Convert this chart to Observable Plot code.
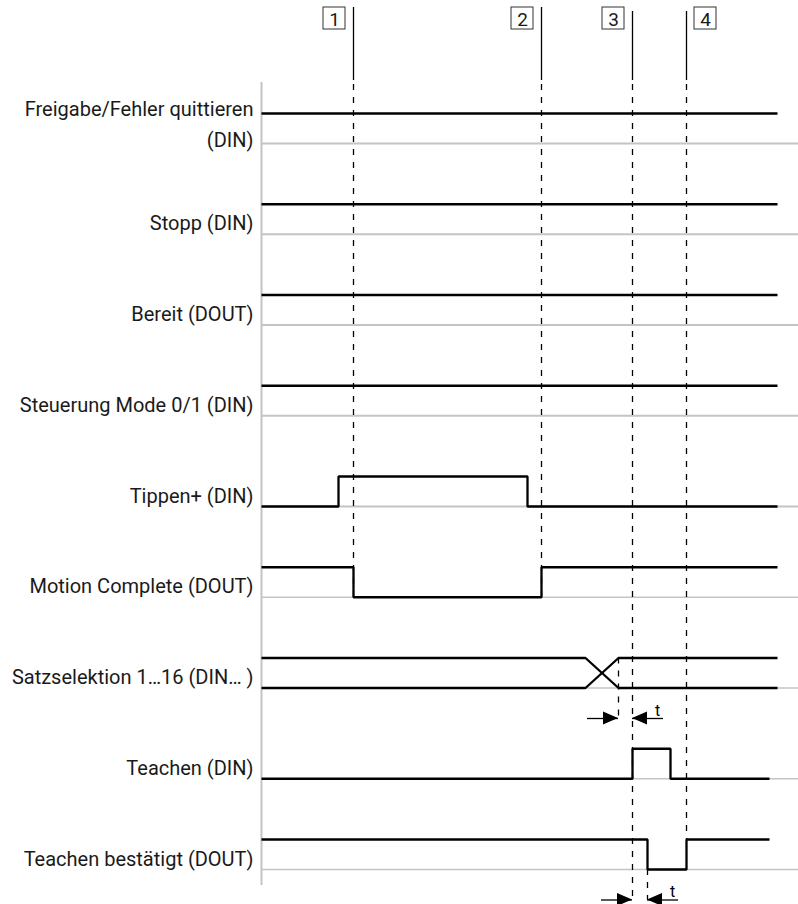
<!DOCTYPE html>
<html><head><meta charset="utf-8">
<script src="https://cdn.jsdelivr.net/npm/d3@7"></script>
<script src="https://cdn.jsdelivr.net/npm/@observablehq/plot@0.6"></script>
<style>html,body{margin:0;padding:0;background:#fff}svg{display:block}</style>
</head><body><div id="chart"></div>
<script>
// ---- data (time units, logic levels) ----
const signalNames = [
  "Freigabe/Fehler quittieren\n(DIN)",
  "Stopp (DIN)",
  "Bereit (DOUT)",
  "Steuerung Mode 0/1 (DIN)",
  "Tippen+ (DIN)",
  "Motion Complete (DOUT)",
  "Satzselektion 1…16 (DIN… )",
  "Teachen (DIN)",
  "Teachen bestätigt (DOUT)"
];
const freigabe  = [[0,1],[516,1]];
const stopp     = [[0,1],[516,1]];
const bereit    = [[0,1],[516,1]];
const steuerung = [[0,1],[516,1]];
const tippen    = [[0,0],[77,0],[77,1],[266,1],[266,0],[516,0]];
const motion    = [[0,1],[92,1],[92,0],[280,0],[280,1],[516,1]];
const satzA     = [[0,1],[324,1],[357,0],[516,0]];
const satzB     = [[0,0],[324,0],[357,1],[516,1]];
const teachen   = [[0,0],[371,0],[371,1],[409,1],[409,0],[508,0]];
const teachenOk = [[0,1],[386,1],[386,0],[425,0],[425,1],[508,1]];
const traceRows = [0,1,2,3,4,5,6,6,7,8];
const traceData = [freigabe,stopp,bereit,steuerung,tippen,motion,satzA,satzB,teachen,teachenOk];
const timeEnd = 537;
const markerTimes  = [92, 280, 371, 425];
const markerLabels = ["1","2","3","4"];
const tRows   = [6, 8];
const tStarts = [357, 371];
const tEnds   = [371, 386];

// ---- layout helpers ----
const ROW = 90.75, GAP = 30;
const yHigh = r => r * ROW;
const yLow  = r => r * ROW + GAP;
const yLevel = (r, lv) => lv ? yHigh(r) : yLow(r);

const lines = [];
traceData.forEach((pts, i) => pts.forEach(([t, lv]) =>
  lines.push({x: t, y: yLevel(traceRows[i], lv), z: i})));

const rows = signalNames.map((name, i) => ({name, i}));

const markers = markerTimes.map((t, i) => ({
  t, label: markerLabels[i], side: i === 3 ? 1 : -1,
  top: i < 2 ? -106 : -102,
  end: i < 2 ? yLow(5) : i === 2 ? yLow(8) + 30 : yHigh(8)
}));

const tArr = tRows.map((r, i) => ({row: r, start: tStarts[i], end: tEnds[i], ay: yLow(r) + 30.5}));
const shafts = [];
const heads = [];
tArr.forEach((a, k) => {
  shafts.push({x1: a.start - 31, x2: a.start, y: a.ay});
  shafts.push({x1: a.end, x2: a.end + 31, y: a.ay});
  heads.push({x: a.start - 15, y1: a.ay - 6.5, y2: a.ay + 6.5, z: "r" + k});
  heads.push({x: a.start, y1: a.ay, y2: a.ay, z: "r" + k});
  heads.push({x: a.end, y1: a.ay, y2: a.ay, z: "l" + k});
  heads.push({x: a.end + 15, y1: a.ay - 6.5, y2: a.ay + 6.5, z: "l" + k});
});
const guides = [
  {x: tArr[0].start, y1: yHigh(6), y2: tArr[0].ay},
  {x: tArr[1].end, y1: yLow(8), y2: tArr[1].ay}
];

const dash = "6,7";
const chart = Plot.plot({
  width: 798, height: 904,
  marginTop: 0, marginRight: 0, marginBottom: 0, marginLeft: 0,
  x: {domain: [0, timeEnd], range: [261, 798], axis: null},
  y: {domain: [-113, 791], range: [0, 904], axis: null},
  style: {fontFamily: "Roboto, sans-serif", background: "#fff", color: "#1a1a1a"},
  marks: [
    Plot.ruleY(rows.filter(d => d.i < 5), {y: d => yLow(d.i), x1: 0, x2: timeEnd, stroke: "#c4c4c4", strokeWidth: 2}),
    Plot.ruleY(rows.filter(d => d.i >= 5), {y: d => yLow(d.i), x1: 0, x2: timeEnd, stroke: "#c4c4c4", strokeWidth: 1.3}),
    Plot.ruleX([0], {y1: -31, y2: 772, stroke: "#c4c4c4", strokeWidth: 2}),
    Plot.ruleX(markers, {x: "t", y1: -29, y2: "end", stroke: "#000", strokeWidth: 1.3, strokeDasharray: dash}),
    Plot.ruleX(markers, {x: "t", y1: "top", y2: -33, stroke: "#000", strokeWidth: 1.3}),
    Plot.ruleX(guides, {x: "x", y1: "y1", y2: "y2", stroke: "#000", strokeWidth: 1.3, strokeDasharray: dash}),
    Plot.line(lines, {x: "x", y: "y", z: "z", stroke: "#000", strokeWidth: 2.3, strokeLinejoin: "miter", strokeLinecap: "butt"}),
    Plot.text(rows.filter(d => !d.name.includes("\n")), {x: 0, y: d => yHigh(d.i) + 26, text: "name", textAnchor: "end", lineAnchor: "bottom", dx: -8, fontSize: 20, fill: "#1a1a1a"}),
    Plot.text(rows.filter(d => d.name.includes("\n")), {x: 0, y: d => yHigh(d.i) + 33, text: "name", textAnchor: "end", lineAnchor: "bottom", lineHeight: 1.55, dx: -8, fontSize: 20, fill: "#1a1a1a"}),
    Plot.rect(markers, {x1: d => d.side < 0 ? d.t - 30 : d.t + 8, x2: d => d.side < 0 ? d.t - 8 : d.t + 30, y1: -106, y2: -84, fill: "#fff", stroke: "#333", strokeWidth: 1}),
    Plot.text(markers, {x: d => d.side < 0 ? d.t - 19 : d.t + 19, y: -88, text: "label", fontSize: 19, fill: "#1a1a1a", lineAnchor: "bottom"}),
    Plot.ruleY(shafts, {x1: "x1", x2: "x2", y: "y", stroke: "#000", strokeWidth: 1.3}),
    Plot.areaY(heads, {x: "x", y1: "y1", y2: "y2", z: "z", fill: "#000", curve: "linear"}),
    Plot.text(tArr, {x: d => d.end + 25, y: d => d.ay - 3, text: () => "t", fontSize: 16, lineAnchor: "bottom", fill: "#000"})
  ]
});
document.getElementById("chart").appendChild(chart);
</script>
</body></html>
